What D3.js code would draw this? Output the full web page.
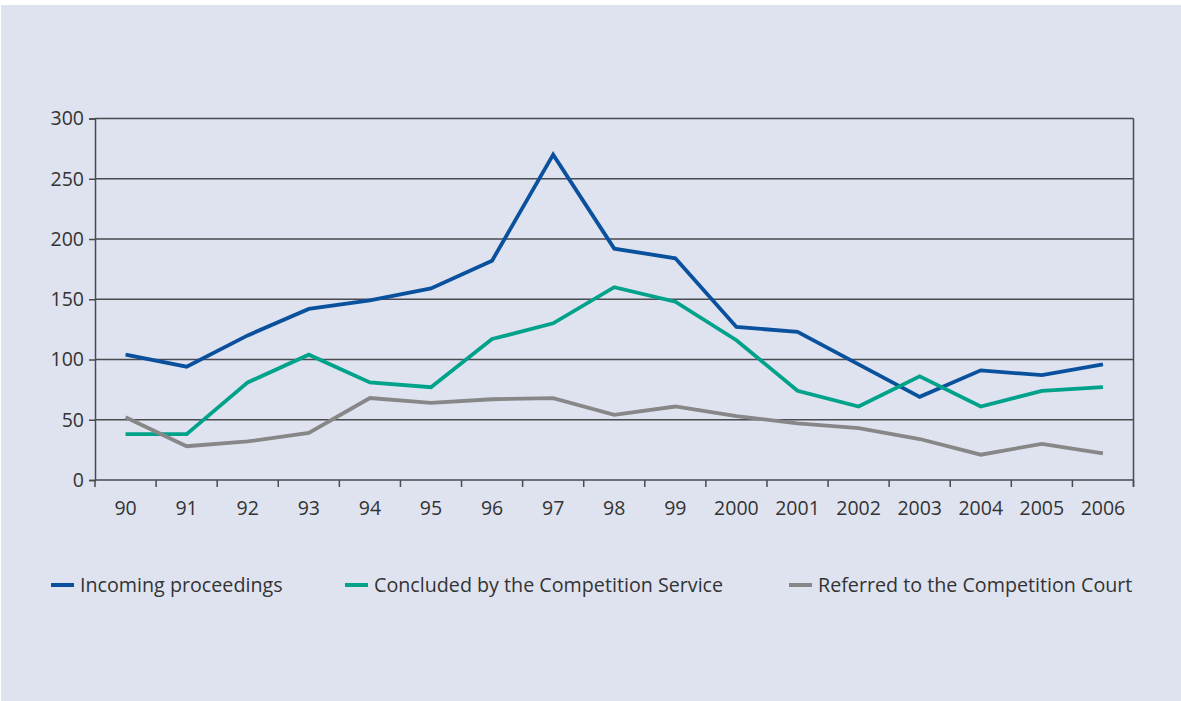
<!DOCTYPE html>
<html>
<head>
<meta charset="utf-8">
<script src="https://cdn.jsdelivr.net/npm/d3@7"></script>
<style>
  html, body { margin: 0; padding: 0; background: #ffffff; }
  svg { display: block; }
  text { font-family: "Open Sans", "Noto Sans", sans-serif; fill: #333333; }
</style>
</head>
<body>
<script>
const categories = ["90","91","92","93","94","95","96","97","98","99","2000","2001","2002","2003","2004","2005","2006"];
const incoming  = [104, 94, 120, 142, 149, 159, 182, 270, 192, 184, 127, 123, 96, 69, 91, 87, 96];
const concluded = [38, 38, 81, 104, 81, 77, 117, 130, 160, 148, 116, 74, 61, 86, 61, 74, 77];
const referred  = [52, 28, 32, 39, 68, 64, 67, 68, 54, 61, 53, 47, 43, 34, 21, 30, 22];
const yTicks = [0, 50, 100, 150, 200, 250, 300];
const seriesNames = ["Incoming proceedings", "Concluded by the Competition Service", "Referred to the Competition Court"];
const seriesColors = ["#0a519d", "#00a28a", "#878787"];

(function () {
const W = 1181, H = 701;
const svg = d3.select("body").append("svg").attr("width", W).attr("height", H);
svg.append("rect").attr("x", 1).attr("y", 5).attr("width", W - 1).attr("height", H - 5).attr("fill", "#dfe3f0");

const pL = 95, pR = 1133.5, pT = 118.5, pB = 480;
const x = d3.scaleBand().domain(categories).range([pL, pR]).padding(0);
const y = d3.scaleLinear().domain([0, 300]).range([pB, pT]);

const g = svg.append("g");
g.selectAll("line.grid").data(yTicks.filter(d => d > 0)).enter().append("line")
  .attr("x1", pL).attr("x2", pR).attr("y1", d => y(d)).attr("y2", d => y(d))
  .attr("stroke", "#4a4a4f").attr("stroke-width", 1.5);
g.append("line").attr("x1", pR).attr("x2", pR).attr("y1", pT).attr("y2", pB + 7)
  .attr("stroke", "#4a4a4f").attr("stroke-width", 1.5);

const yAxis = d3.axisLeft(y).tickValues(yTicks).tickSize(6).tickPadding(5);
const ya = svg.append("g").attr("transform", `translate(${pL},0)`).call(yAxis);
ya.select(".domain").attr("stroke", "#4a4a4f").attr("stroke-width", 1.5);
ya.selectAll(".tick line").attr("stroke", "#4a4a4f").attr("stroke-width", 1.5);
ya.selectAll(".tick text").style("font-size", "19.5px").attr("fill", "#333").style("font-family", "'Open Sans', sans-serif");

const xa = svg.append("g").attr("transform", `translate(0,${pB})`);
xa.append("line").attr("x1", pL).attr("x2", pR).attr("stroke", "#4a4a4f").attr("stroke-width", 1.5);
const bounds = categories.map(c => x(c)).concat([pR]);
xa.selectAll("line.tk").data(bounds).enter().append("line")
  .attr("x1", d => d).attr("x2", d => d).attr("y1", 0).attr("y2", 7)
  .attr("stroke", "#4a4a4f").attr("stroke-width", 1.5);
xa.selectAll("text").data(categories).enter().append("text")
  .attr("x", d => x(d) + x.bandwidth() / 2).attr("y", 35)
  .attr("text-anchor", "middle").style("font-size", "19.5px").text(d => d);

const line = d3.line().x((d, i) => x(categories[i]) + x.bandwidth() / 2).y(d => y(d));
[incoming, concluded, referred].forEach((s, i) => {
  svg.append("path").datum(s).attr("d", line).attr("fill", "none")
    .attr("stroke", seriesColors[i]).attr("stroke-width", 3.8).attr("stroke-linejoin", "miter");
});

const legendX = [51, 345, 789];
const lg = svg.append("g");
seriesNames.forEach((n, i) => {
  lg.append("line").attr("x1", legendX[i]).attr("x2", legendX[i] + 23).attr("y1", 585).attr("y2", 585)
    .attr("stroke", seriesColors[i]).attr("stroke-width", 4);
  lg.append("text").attr("x", legendX[i] + 29).attr("y", 592).style("font-size", "19.7px").text(n);
});
})();
</script>
</body>
</html>
